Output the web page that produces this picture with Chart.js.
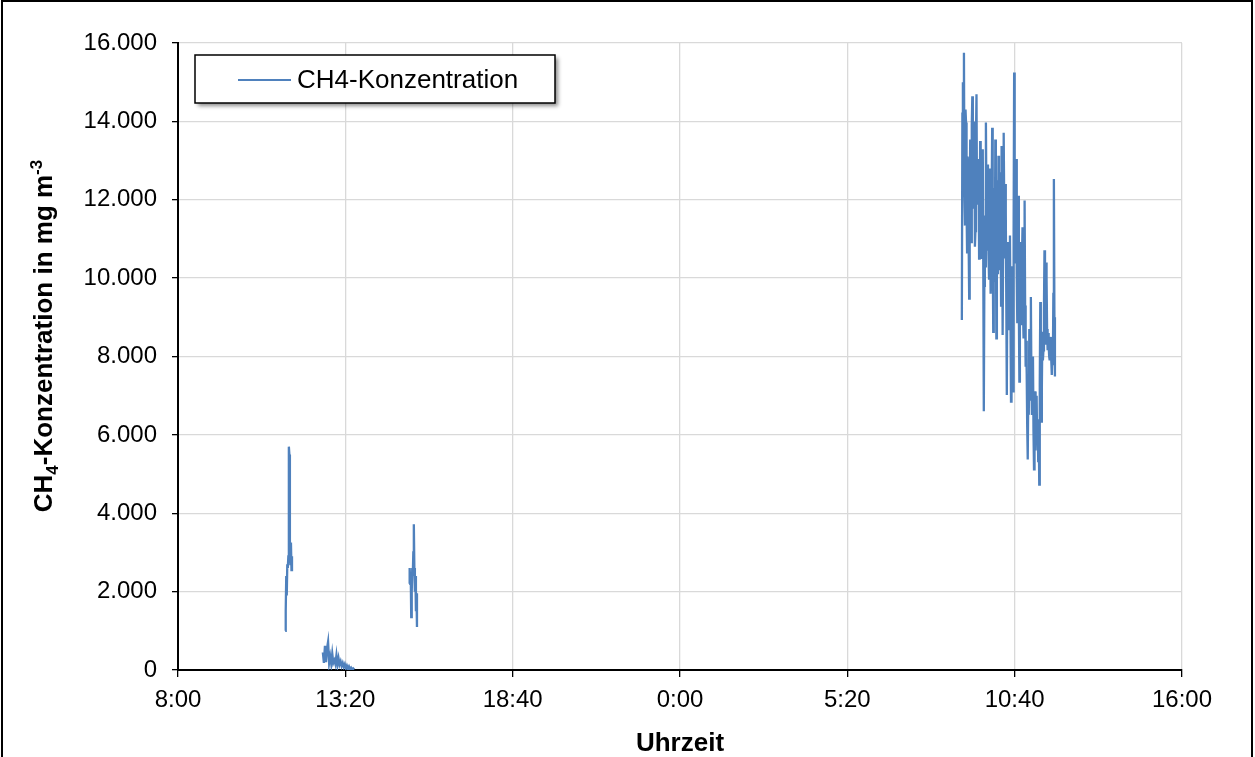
<!DOCTYPE html>
<html>
<head>
<meta charset="utf-8">
<script src="https://cdn.jsdelivr.net/npm/chart.js@4.4.1/dist/chart.umd.min.js"></script>
<style>
  html, body { margin: 0; padding: 0; background: #fff; }
  #js-wrap { width: 1255px; height: 757px; }
</style>
</head>
<body>
<div id="js-wrap"><canvas id="js-chart" width="1255" height="757"></canvas></div>
<script>
// axis labels
const xTickLabels = ["8:00", "13:20", "18:40", "0:00", "5:20", "10:40", "16:00"];
const yTickLabels = ["0", "2.000", "4.000", "6.000", "8.000", "10.000", "12.000", "14.000", "16.000"];

// measuring periods: start time, day (0 = first day), logging step in minutes
const periodStarts = ["11:25", "12:37", "15:22", "8:59"];
const periodDays = [0, 0, 0, 1];
const periodSteps = [1, 2, 1, 1];

// CH4 concentration in mg m-3
const period1 = [1000, 1500, 2400, 1900, 2700, 2600, 2900, 5700, 5500, 3300, 2700, 3250, 2550, 2900];
const period2 = [450, 180, 620, 200, 550, 720, 180, 350, 160, 420, 180, 250, 150, 380, 130, 300,
  140, 220, 100, 180, 80, 150, 40, 110, 30, 90, 20, 60, 10, 40, 10];
const period3 = [2200, 2600, 2300, 2500, 1350, 2000, 2600, 2400, 3000, 3720, 2600, 2000, 2400, 1500, 1960, 1100];
const period4 = [
  8930, 14200, 15000, 12600, 15750, 12100, 11340, 14300, 13970, 11800,
  10660, 13100, 12800, 10900, 9480, 12200, 13540, 11500, 10920, 13900,
  14640, 12400, 11800, 14000, 13370, 10800, 11200, 13600, 14690, 11900,
  12020, 12900, 13040, 10500, 11000, 13500, 12600, 11300, 10490, 12700,
  13290, 10200, 6600, 9800, 11600, 10300, 13970, 11900, 10700, 12900,
  12020, 10600, 9990, 12800, 11500, 9600, 10400, 12100, 13840, 10900,
  8630, 11200, 12300, 9900, 13540, 11700, 8460, 10800, 12500, 10100,
  13120, 11400, 10200, 12700, 12000, 9300, 13370, 11600, 8550, 10900,
  13710, 11900, 10500, 12400, 11680, 9400, 7020, 10100, 10920, 8700,
  9800, 10600, 11090, 8900, 6850, 9700, 10300, 8200, 7110, 11200,
  15250, 11800, 10400, 12300, 13040, 10100, 8880, 11000, 12100, 9200,
  7360, 9900, 10920, 8800, 9730, 10500, 11300, 9100, 8460, 10700,
  11980, 9300, 7740, 8400, 7570, 6200, 5370, 7100, 6510, 8700,
  7800, 6900, 9520, 7400, 6510, 7600, 8000, 6100, 5120, 6600,
  7110, 5600, 6300, 7000, 5800, 6400, 5330, 6200, 4730, 7300,
  9390, 7800, 6340, 7200, 8630, 7900, 8160, 9200, 10710, 8600,
  8300, 10400, 9990, 8700, 8160, 8600, 8290, 8000, 7900, 8500,
  8290, 7900, 7530, 8100, 7780, 9600, 12530, 9000, 7490];

const periods = [period1, period2, period3, period4];

const FONT = "'Liberation Sans', Arial, sans-serif";
const BLUE = "#4f81bd";

// minutes since 8:00 of the first day
function toAxisMinutes(time, day) {
  const [h, m] = time.split(":").map(Number);
  return day * 1440 + h * 60 + m - 480;
}

const points = [];
periods.forEach((values, p) => {
  const start = toAxisMinutes(periodStarts[p], periodDays[p]);
  values.forEach((v, i) => points.push({ x: start + i * periodSteps[p], y: v }));
  // break the line between measuring periods
  points.push({ x: start + values.length * periodSteps[p], y: null });
});

// frame around the whole picture
const frame = {
  id: "frame",
  afterDraw(chart) {
    const ctx = chart.ctx;
    ctx.save();
    ctx.strokeStyle = "#000";
    ctx.lineWidth = 2;
    ctx.strokeRect(2, 1, 1250, 800);
    ctx.restore();
  },
};

// y title with sub- and superscript
const yTitle = {
  id: "yTitle",
  afterDraw(chart) {
    const ctx = chart.ctx;
    const big = "bold 26px " + FONT;
    const small = "bold 17px " + FONT;
    const parts = [
      { t: "CH", f: big, dy: 0 },
      { t: "4", f: small, dy: 6 },
      { t: "-Konzentration in mg m", f: big, dy: 0 },
      { t: "-3", f: small, dy: -10 },
    ];
    ctx.save();
    let total = 0;
    parts.forEach((p) => {
      ctx.font = p.f;
      p.w = ctx.measureText(p.t).width;
      total += p.w;
    });
    ctx.translate(52, 336);
    ctx.rotate(-Math.PI / 2);
    ctx.fillStyle = "#000";
    ctx.textBaseline = "alphabetic";
    let x = -total / 2;
    parts.forEach((p) => {
      ctx.font = p.f;
      ctx.fillText(p.t, x, p.dy);
      x += p.w;
    });
    ctx.restore();
  },
};

// legend box with shadow inside the plot
const legendBox = {
  id: "legendBox",
  afterDraw(chart) {
    const ctx = chart.ctx;
    const ds = chart.data.datasets[0];
    ctx.save();
    ctx.shadowColor = "rgba(0,0,0,0.45)";
    ctx.shadowBlur = 4;
    ctx.shadowOffsetX = 3;
    ctx.shadowOffsetY = 3;
    ctx.fillStyle = "#fff";
    ctx.fillRect(195, 55, 360, 48);
    ctx.shadowColor = "transparent";
    ctx.strokeStyle = "#000";
    ctx.lineWidth = 1.5;
    ctx.strokeRect(195, 55, 360, 48);
    ctx.strokeStyle = ds.borderColor;
    ctx.lineWidth = 1.8;
    ctx.beginPath();
    ctx.moveTo(238, 80);
    ctx.lineTo(291, 80);
    ctx.stroke();
    ctx.fillStyle = "#000";
    ctx.font = "26px " + FONT;
    ctx.textBaseline = "middle";
    ctx.fillText(ds.label, 297, 81);
    ctx.restore();
  },
};

const chart = new Chart(document.getElementById("js-chart"), {
  type: "line",
  data: {
    datasets: [
      {
        label: "CH4-Konzentration",
        data: points,
        borderColor: BLUE,
        borderWidth: 2.3,
        pointRadius: 0,
        tension: 0,
        spanGaps: false,
      },
    ],
  },
  options: {
    responsive: false,
    animation: false,
    layout: { padding: { left: 0, top: 43, right: 73, bottom: 0 } },
    plugins: { legend: { display: false }, tooltip: { enabled: false } },
    scales: {
      x: {
        type: "linear",
        min: 0,
        max: 1920,
        ticks: {
          stepSize: 320,
          autoSkip: false,
          maxRotation: 0,
          padding: 9,
          color: "#000",
          font: { family: FONT, size: 24 },
          callback: (v, i) => xTickLabels[i],
        },
        grid: { color: "#d9d9d9", lineWidth: 1.3, tickColor: "#000", tickLength: 7 },
        border: { color: "#000", width: 2 },
        title: {
          display: true,
          text: "Uhrzeit",
          color: "#000",
          font: { family: FONT, size: 26, weight: "bold" },
          padding: { top: 0, bottom: -2 },
        },
        afterFit: (s) => { s.height = 87; },
      },
      y: {
        min: 0,
        max: 16000,
        ticks: {
          stepSize: 2000,
          padding: 15,
          color: "#000",
          font: { family: FONT, size: 24 },
          callback: (v, i) => yTickLabels[i],
        },
        grid: { color: "#d9d9d9", lineWidth: 1.3, tickColor: "#000", tickLength: 6 },
        border: { color: "#000", width: 2 },
        afterFit: (s) => { s.width = 178; },
      },
    },
  },
  plugins: [frame, yTitle, legendBox],
});
</script>
</body>
</html>
